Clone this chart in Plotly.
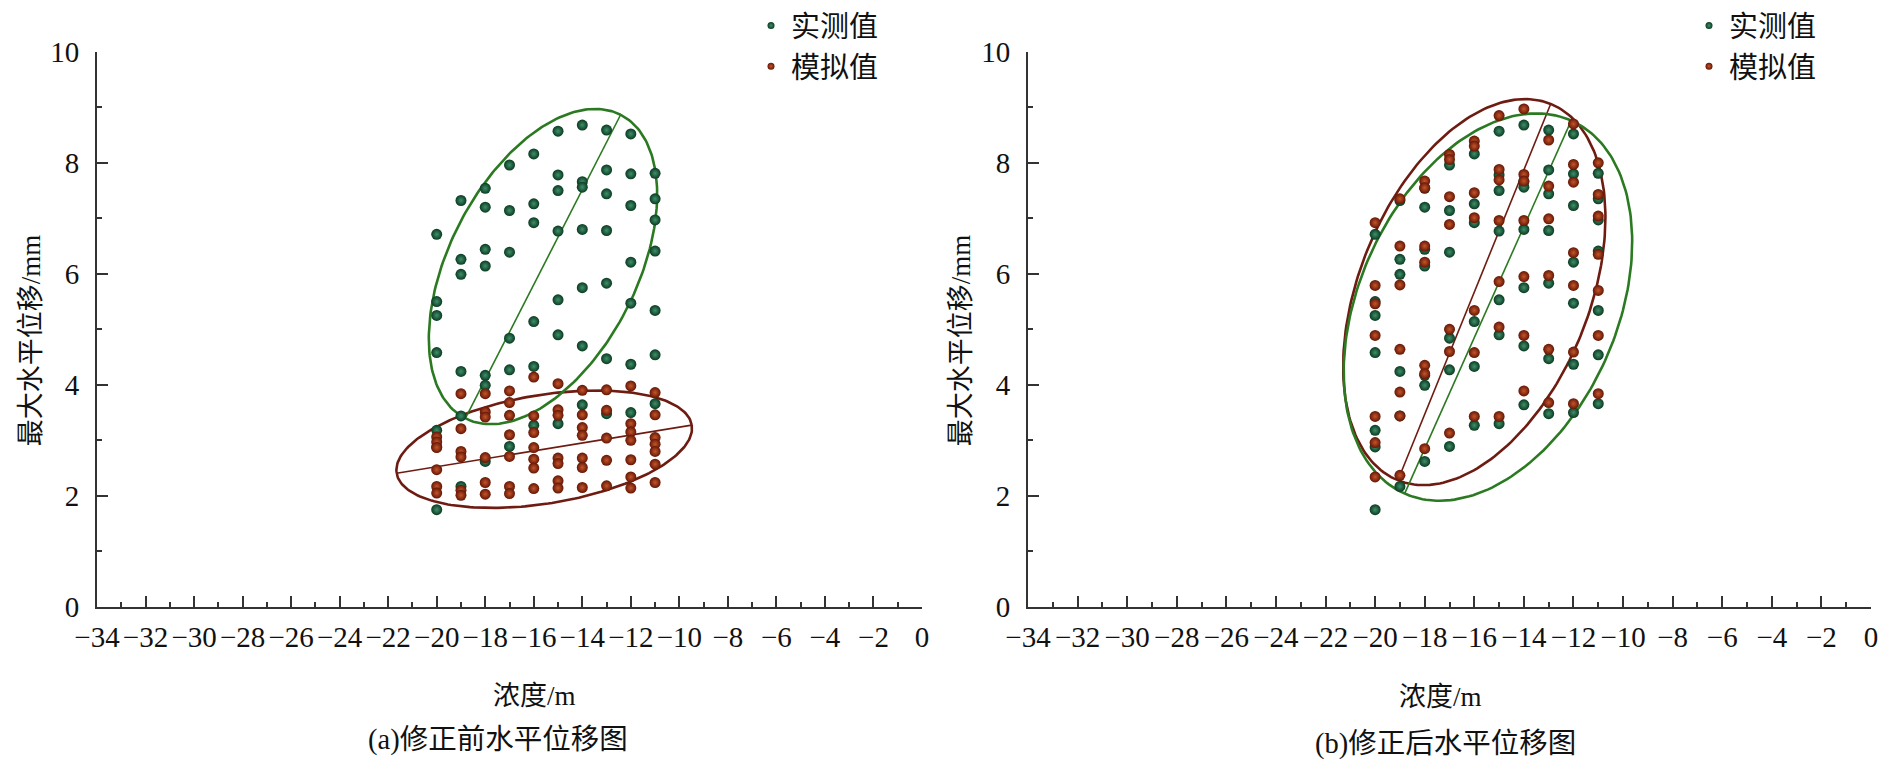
import numpy as np
import plotly.graph_objects as go

# ---------------- data ----------------
columns = [-20, -19, -18, -17, -16, -15, -14, -13, -12, -11]

# measured values (same in both panels)
measured = [
    [6.71, 5.50, 5.25, 4.58, 3.18, 2.88, 1.75],
    [7.32, 6.26, 5.99, 4.24, 3.44, 2.17],
    [7.54, 7.20, 6.44, 6.14, 4.17, 3.99, 2.62],
    [7.96, 7.14, 6.39, 4.84, 4.27, 2.89],
    [8.16, 7.26, 6.92, 5.14, 4.33, 3.27],
    [8.57, 7.78, 7.50, 6.77, 5.53, 4.90, 3.30],
    [8.68, 7.66, 7.56, 6.80, 5.75, 4.70, 3.64],
    [8.59, 7.87, 7.44, 6.78, 5.83, 4.47, 3.48],
    [8.52, 7.80, 7.23, 6.21, 5.47, 4.37, 3.50],
    [7.81, 7.35, 6.97, 6.41, 5.34, 4.54, 3.66],
]

# simulated values before correction (panel a)
simulated_before = [
    [3.06, 2.97, 2.87, 2.47, 2.17, 2.05],
    [3.84, 3.21, 2.80, 2.70, 2.10, 2.01],
    [3.84, 3.51, 3.42, 2.69, 2.24, 2.03],
    [3.89, 3.68, 3.45, 3.10, 2.71, 2.17, 2.04],
    [4.14, 3.44, 3.14, 2.87, 2.66, 2.50, 2.13],
    [4.02, 3.55, 3.45, 2.68, 2.58, 2.27, 2.14],
    [3.90, 3.46, 3.23, 3.09, 2.68, 2.51, 2.15],
    [3.91, 3.54, 3.04, 2.64, 2.18],
    [3.98, 3.30, 3.15, 3.00, 2.65, 2.34, 2.14],
    [3.86, 3.46, 3.05, 2.93, 2.80, 2.57, 2.24],
]

# simulated values after correction (panel b)
simulated_after = [
    [6.92, 5.79, 5.46, 4.89, 3.43, 2.96, 2.34],
    [7.35, 6.50, 5.80, 4.64, 3.87, 3.44, 2.37],
    [7.67, 7.55, 6.50, 6.21, 4.35, 4.20, 2.85],
    [8.15, 8.06, 7.39, 6.89, 5.00, 4.60, 3.13],
    [8.39, 8.30, 7.46, 7.01, 5.34, 4.58, 3.43],
    [8.85, 7.88, 7.69, 6.96, 5.86, 5.04, 3.43],
    [8.97, 7.79, 7.67, 6.96, 5.95, 4.89, 3.89],
    [8.41, 7.58, 6.99, 5.97, 4.64, 3.68],
    [8.70, 7.97, 7.65, 6.38, 5.79, 4.59, 3.66],
    [8.00, 7.43, 7.04, 6.35, 5.70, 4.89, 3.84],
]

# ellipses: center, major half-axis vector, minor half-axis vector (data units)
ellipse_a_measured_center = [-15.62, 6.13]
ellipse_a_measured_major = [3.20, 2.735]
ellipse_a_measured_minor = [3.45, -0.766]

ellipse_a_sim_center = [-15.57, 2.84]
ellipse_a_sim_major = [6.08, 0.434]
ellipse_a_sim_minor = [0.364, -0.965]

ellipse_b_measured_center = [-15.45, 5.40]
ellipse_b_measured_major = [3.36, 3.36]
ellipse_b_measured_minor = [4.75, -0.94]

ellipse_b_sim_center = [-16.0, 5.67]
ellipse_b_sim_major = [3.08, 3.39]
ellipse_b_sim_minor = [4.30, -0.773]

x_ticks = list(range(-34, 1, 2))
y_ticks = list(range(0, 11, 2))

legend_names = ["实测值", "模拟值"]

# ---------------- helpers ----------------
def flatten(cols, vals):
    xs, ys = [], []
    for c, vs in zip(cols, vals):
        for v in vs:
            xs.append(c)
            ys.append(v)
    return xs, ys

def ellipse_path(center, major, minor, n=240):
    t = np.linspace(0, 2 * np.pi, n)
    x = center[0] + major[0] * np.cos(t) + minor[0] * np.sin(t)
    y = center[1] + major[1] * np.cos(t) + minor[1] * np.sin(t)
    return x, y

GREEN_OUT, GREEN_IN = "#0a3a22", "#40906a"
RED_OUT, RED_IN = "#641604", "#c4552c"
GREEN_LINE = "#2b7a22"
RED_LINE = "#6e1c12"

fig = go.Figure()

panels = [
    ("x", "y", "legend", simulated_before,
     (ellipse_a_measured_center, ellipse_a_measured_major, ellipse_a_measured_minor),
     (ellipse_a_sim_center, ellipse_a_sim_major, ellipse_a_sim_minor)),
    ("x2", "y2", "legend2", simulated_after,
     (ellipse_b_measured_center, ellipse_b_measured_major, ellipse_b_measured_minor),
     (ellipse_b_sim_center, ellipse_b_sim_major, ellipse_b_sim_minor)),
]

def marker(out_c, in_c, size):
    return dict(size=size, color=out_c, line=dict(width=0),
                gradient=dict(type="radial", color=in_c))

for xa, ya, leg, sim, em, es in panels:
    for (c, ma, mi), col in ((es, RED_LINE), (em, GREEN_LINE)):
        ex, ey = ellipse_path(c, ma, mi)
        fig.add_trace(go.Scatter(x=ex, y=ey, mode="lines", xaxis=xa, yaxis=ya,
                                 line=dict(color=col, width=2.6), showlegend=False,
                                 hoverinfo="skip"))
        fig.add_trace(go.Scatter(x=[c[0] - ma[0], c[0] + ma[0]], y=[c[1] - ma[1], c[1] + ma[1]],
                                 mode="lines", xaxis=xa, yaxis=ya,
                                 line=dict(color=col, width=1.6), showlegend=False,
                                 hoverinfo="skip"))
    gx, gy = flatten(columns, measured)
    fig.add_trace(go.Scatter(x=gx, y=gy, mode="markers", name=legend_names[0],
                             xaxis=xa, yaxis=ya, showlegend=False,
                             marker=marker(GREEN_OUT, GREEN_IN, 11)))
    rx, ry = flatten(columns, sim)
    fig.add_trace(go.Scatter(x=rx, y=ry, mode="markers", name=legend_names[1],
                             xaxis=xa, yaxis=ya, showlegend=False,
                             marker=marker(RED_OUT, RED_IN, 11)))
    # legend entries (smaller symbols, like the reference)
    fig.add_trace(go.Scatter(x=[None], y=[None], mode="markers", name=legend_names[0],
                             xaxis=xa, yaxis=ya, legend=leg,
                             marker=marker(GREEN_OUT, GREEN_IN, 7)))
    fig.add_trace(go.Scatter(x=[None], y=[None], mode="markers", name=legend_names[1],
                             xaxis=xa, yaxis=ya, legend=leg,
                             marker=marker(RED_OUT, RED_IN, 7)))

W, H = 1888, 766
ydom = [1 - 606 / H, 1 - 48 / H]
tickfont = dict(family="Liberation Serif, Times New Roman, serif", size=29, color="#111")

def xaxis(dom, anchor):
    return dict(domain=dom, anchor=anchor, range=[-34, 0], tickmode="array",
                tickvals=x_ticks, ticktext=[("−" + str(-v)) if v < 0 else str(v) for v in x_ticks],
                ticks="inside", ticklen=11, tickwidth=1.5, tickcolor="#333",
                minor=dict(ticks="inside", ticklen=5, dtick=1, tick0=0, tickwidth=1.5, tickcolor="#333"),
                showline=True, linecolor="#333", linewidth=2, showgrid=False, zeroline=False,
                tickfont=tickfont, tickangle=0, ticklabelstandoff=3, fixedrange=True,
                automargin=False)

def yaxis(anchor):
    return dict(domain=ydom, anchor=anchor, range=[0, 10], tickmode="array",
                tickvals=y_ticks, ticks="inside", ticklen=11, tickwidth=1.5, tickcolor="#333",
                minor=dict(ticks="inside", ticklen=5, dtick=1, tick0=0, tickwidth=1.5, tickcolor="#333"),
                showline=True, linecolor="#333", linewidth=2, showgrid=False, zeroline=False,
                tickfont=tickfont, ticklabelstandoff=10, fixedrange=True, automargin=False)

legend_font = dict(family="Noto Sans CJK SC", size=29, color="#111")

fig.update_layout(
    width=W, height=H, autosize=False,
    margin=dict(l=0, r=0, t=0, b=0),
    paper_bgcolor="white", plot_bgcolor="white",
    xaxis=xaxis([97 / W, 922 / W], "y"),
    yaxis=yaxis("x"),
    xaxis2=xaxis([1028 / W, 1871 / W], "y2"),
    yaxis2=yaxis("x2"),
    legend=dict(x=751 / W, y=1.005, xanchor="left", yanchor="top", font=legend_font,
                bgcolor="rgba(0,0,0,0)", tracegroupgap=0),
    legend2=dict(x=1689 / W, y=1.005, xanchor="left", yanchor="top", font=legend_font,
                 bgcolor="rgba(0,0,0,0)", tracegroupgap=0),
    showlegend=True,
)

cjk = "Noto Sans CJK SC"
serif_span = '<span style="font-family:Liberation Serif">/mm</span>'
serif_m = '<span style="font-family:Liberation Serif">/m</span>'
ann = [
    dict(x=28 / W, y=1 - 338 / H, text="最大水平位移" + serif_span, textangle=-90, size=27),
    dict(x=958 / W, y=1 - 338 / H, text="最大水平位移" + serif_span, textangle=-90, size=27),
    dict(x=534 / W, y=1 - 693 / H, text="浓度" + serif_m, textangle=0, size=27),
    dict(x=1440 / W, y=1 - 694 / H, text="浓度" + serif_m, textangle=0, size=27),
    dict(x=498 / W, y=1 - 736 / H, text='<span style="font-family:Liberation Serif">(a)</span>修正前水平位移图', textangle=0, size=28.5),
    dict(x=1445 / W, y=1 - 740 / H, text='<span style="font-family:Liberation Serif">(b)</span>修正后水平位移图', textangle=0, size=28.5),
]
for a in ann:
    fig.add_annotation(x=a["x"], y=a["y"], xref="paper", yref="paper", text=a["text"],
                       textangle=a["textangle"], showarrow=False, xanchor="center", yanchor="middle",
                       borderpad=0, font=dict(family=cjk, size=a["size"], color="#111"))

fig.write_html("out.html", config={"displayModeBar": False},
               post_script="document.body.style.margin='0';document.body.style.overflow='hidden';")
